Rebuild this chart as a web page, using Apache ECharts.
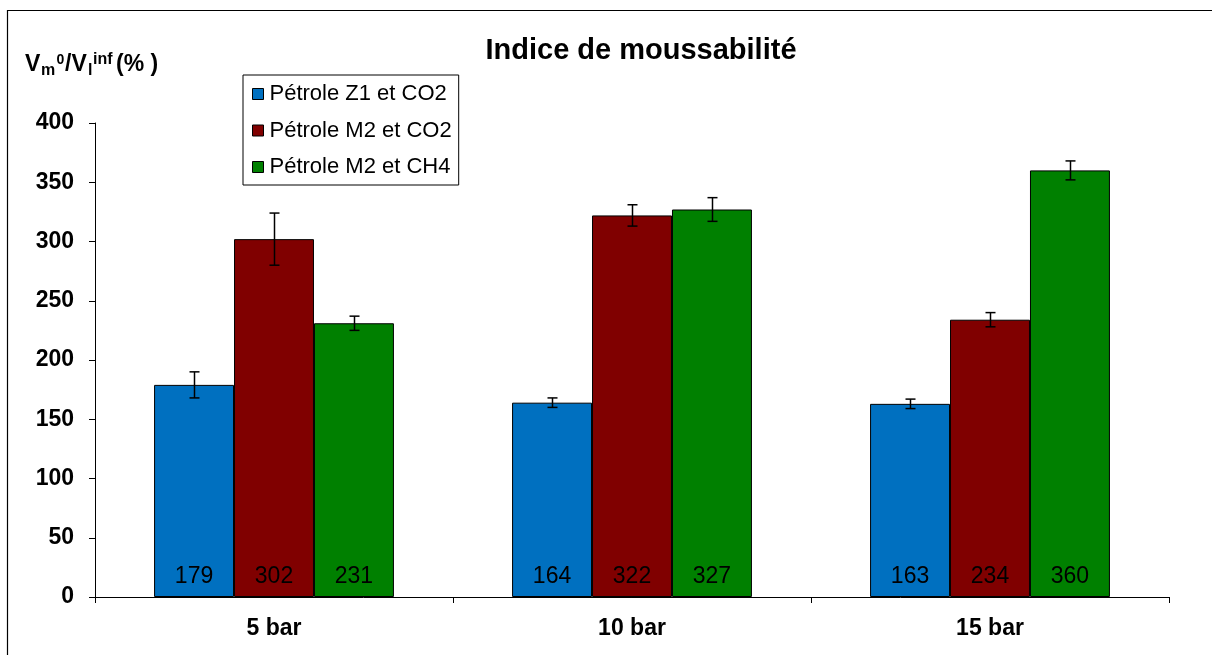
<!DOCTYPE html>
<html>
<head>
<meta charset="utf-8">
<script src="https://cdn.jsdelivr.net/npm/echarts@6/dist/echarts.min.js"></script>
<style>
html,body{margin:0;padding:0;background:#fff;}
#chart{width:1212px;height:655px;}
</style>
</head>
<body>
<div id="chart"></div>
<script>
const categories = ['5 bar', '10 bar', '15 bar'];
const seriesNames = ['Pétrole Z1 et CO2', 'Pétrole M2 et CO2', 'Pétrole M2 et CH4'];
const z1co2 = [179, 164, 163];
const m2co2 = [302, 322, 234];
const m2ch4 = [231, 327, 360];
const z1co2Err = [11, 4, 4];
const m2co2Err = [22, 9, 6];
const m2ch4Err = [6, 10, 8];
const colors = ['#0070C0', '#800000', '#008000'];
const yMin = 0, yMax = 400, yStep = 50;

const FONT = 'Liberation Sans, Arial, sans-serif';
const values = [z1co2, m2co2, m2ch4];
const errs = [z1co2Err, m2co2Err, m2ch4Err];
const GAP = 0.33;

const chart = echarts.init(document.getElementById('chart'));

const barSeries = values.map((vals, i) => ({
  name: seriesNames[i],
  type: 'bar',
  data: vals,
  barGap: '0%',
  barCategoryGap: (GAP * 100) + '%',
  itemStyle: { color: colors[i], borderColor: '#000', borderWidth: 1 },
  label: {
    show: true, position: 'insideBottom', distance: 9,
    color: '#000', fontSize: 23, fontFamily: FONT
  },
  emphasis: { disabled: true },
  z: 2
}));

const errSeries = values.map((vals, i) => ({
  type: 'custom',
  name: 'err' + i,
  data: vals.map((v, k) => [k, v - errs[i][k], v + errs[i][k]]),
  z: 5,
  silent: true,
  renderItem: function (params, api) {
    const k = api.value(0);
    const lo = api.coord([k, api.value(1)]);
    const hi = api.coord([k, api.value(2)]);
    const band = api.size([1, 0])[0];
    const bw = band * (1 - GAP) / 3;
    const x = Math.round(lo[0] + (i - 1) * bw) + 0.5;
    const cw = 5;
    const st = { stroke: '#000', lineWidth: 1.5 };
    return {
      type: 'group',
      children: [
        { type: 'line', shape: { x1: x, y1: lo[1], x2: x, y2: hi[1] }, style: st },
        { type: 'line', shape: { x1: x - cw, y1: lo[1], x2: x + cw, y2: lo[1] }, style: st },
        { type: 'line', shape: { x1: x - cw, y1: hi[1], x2: x + cw, y2: hi[1] }, style: st }
      ]
    };
  }
}));

function piece(x, yBase, text, size) {
  return { text: text, left: x, top: yBase - 0.92 * size, padding: 0,
    textStyle: { fontSize: size, fontWeight: 'bold', color: '#000', fontFamily: FONT } };
}

chart.setOption({
  animation: false,
  backgroundColor: '#fff',
  title: [
    {
      text: 'Indice de moussabilité',
      left: 636, top: 31, textAlign: 'center',
      textStyle: { fontSize: 29, fontWeight: 'bold', color: '#000', fontFamily: FONT }
    },
    piece(25, 74, 'V', 23),
    piece(41, 77, 'm', 16),
    piece(56.5, 66, '0', 14),
    piece(65, 74, '/V', 23),
    piece(88, 77, 'l', 16),
    piece(93, 66, 'inf', 16),
    piece(116, 74, '(% )', 23)
  ],
  legend: {
    data: seriesNames,
    orient: 'vertical',
    left: 243, top: 75,
    padding: [8, 7, 7, 9],
    itemGap: 14.5,
    itemWidth: 11, itemHeight: 11,
    icon: 'rect',
    borderColor: '#000', borderWidth: 1,
    textStyle: { fontSize: 22, color: '#000', fontFamily: FONT, padding: [0, 0, 0, 1] },
    itemStyle: { borderColor: '#000', borderWidth: 1 },
    selectedMode: false
  },
  grid: { left: 95, right: 43, top: 123, bottom: 58, containLabel: false },
  xAxis: {
    type: 'category',
    data: categories,
    axisLine: { lineStyle: { color: '#000', width: 1 } },
    axisTick: { show: true, length: 6, lineStyle: { color: '#000' } },
    axisLabel: { color: '#000', fontSize: 23, fontWeight: 'bold', fontFamily: FONT, margin: 20 }
  },
  yAxis: {
    type: 'value',
    min: yMin, max: yMax, interval: yStep,
    splitLine: { show: false },
    axisLine: { show: true, lineStyle: { color: '#000', width: 1 } },
    axisTick: { show: true, length: 6, lineStyle: { color: '#000' } },
    axisLabel: { color: '#000', fontSize: 23, fontWeight: 'bold', fontFamily: FONT, margin: 21 }
  },
  graphic: [
    { type: 'rect', silent: true, shape: { x: 7.5, y: 10.5, width: 1400, height: 1000 },
      style: { fill: 'none', stroke: '#000', lineWidth: 1.2 } }
  ],
  series: barSeries.concat(errSeries)
});
</script>
</body>
</html>
